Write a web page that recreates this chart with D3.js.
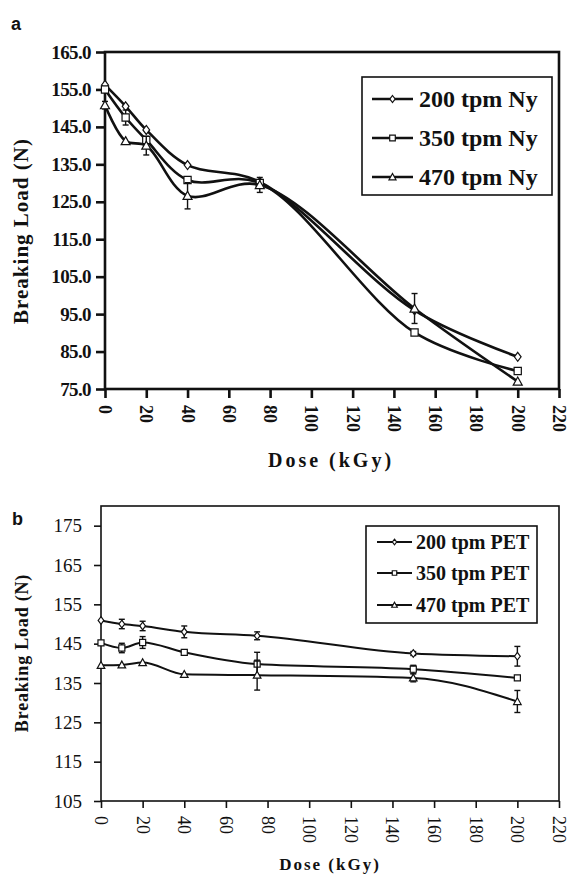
<!DOCTYPE html>
<html lang="en">
<head>
<meta charset="UTF-8">
<title>Breaking load vs dose</title>
<script src="https://cdn.jsdelivr.net/npm/d3@7"></script>
<style>
  body { margin: 0; background: #fff; }
  svg { display: block; }
</style>
</head>
<body>
<div id="chart"></div>
<script>
// 数据
const doses = [0, 10, 20, 40, 75, 150, 200];
const xTicks = [0, 20, 40, 60, 80, 100, 120, 140, 160, 180, 200, 220];

const nyNames = ["200 tpm Ny", "350 tpm Ny", "470 tpm Ny"];
const ny200 = [156.2, 150.5, 144.2, 134.8, 130.3, 96.0, 83.6];
const ny350 = [155.0, 147.5, 141.5, 130.8, 130.0, 90.1, 79.8];
const ny470 = [150.8, 141.2, 140.0, 126.6, 129.5, 96.5, 77.0];
const ny200Err = [0, 0, 0, 0, 0, 0, 0];
const ny350Err = [0, 2.0, 0, 0, 0, 0, 0];
const ny470Err = [1.0, 0, 2.5, 3.5, 2.0, 4.0, 0];
const nyTicks = [75, 85, 95, 105, 115, 125, 135, 145, 155, 165];

const petNames = ["200 tpm PET", "350 tpm PET", "470 tpm PET"];
const pet200 = [150.9, 150.0, 149.5, 148.0, 147.0, 142.5, 141.8];
const pet350 = [145.2, 143.9, 145.3, 142.8, 139.8, 138.5, 136.3];
const pet470 = [139.5, 139.6, 140.2, 137.2, 137.0, 136.3, 130.3];
const pet200Err = [0, 1.2, 1.2, 1.5, 1.0, 0.5, 2.5];
const pet350Err = [0, 1.2, 1.5, 0, 3.0, 1.0, 0];
const pet470Err = [0, 0, 0, 0, 3.8, 1.0, 2.8];
const petTicks = [105, 115, 125, 135, 145, 155, 165, 175];

const markers = ["diamond", "square", "triangle"];

const serif = "'Liberation Serif', 'Times New Roman', serif";
const width = 568, height = 876;
const svg = d3.select("#chart").append("svg").attr("width", width).attr("height", height);

function markerPath(type, s) {
    if (type === "diamond") return `M0,${-s}L${s*0.75},0L0,${s}L${-s*0.75},0Z`;
    if (type === "square") return `M${-s*0.8},${-s*0.8}H${s*0.8}V${s*0.8}H${-s*0.8}Z`;
    return `M0,${-s}L${s},${s*0.8}L${-s},${s*0.8}Z`;
}

function drawPanel(o) {
    const g = svg.append("g");
    const x = d3.scaleLinear().domain([0, 220]).range([o.left, o.right]);
    const y = d3.scaleLinear().domain(o.yDomain).range([o.bottom, o.top]);

    // 坐标轴
    const yAxis = g.append("g").attr("transform", `translate(${o.left},0)`)
        .call(d3.axisLeft(y).tickValues(o.yTicks).tickSize(o.tick).tickSizeOuter(0)
            .tickPadding(o.yPad).tickFormat(o.yFormat));
    yAxis.select(".domain").remove();
    yAxis.selectAll("line").attr("stroke", "#111").attr("stroke-width", o.frame);
    yAxis.selectAll("text").attr("font-family", serif).attr("font-size", o.tickFont)
        .attr("font-weight", o.tickWeight).attr("fill", "#111").attr("letter-spacing", o.tickLs);

    const xAxis = g.append("g").attr("transform", `translate(0,${o.bottom})`)
        .call(d3.axisBottom(x).tickValues(xTicks).tickSize(o.tick).tickSizeOuter(0));
    xAxis.select(".domain").remove();
    xAxis.selectAll("line").attr("stroke", "#111").attr("stroke-width", o.frame);
    xAxis.selectAll("text")
        .attr("transform", "rotate(90)")
        .attr("x", o.xPad).attr("y", 0).attr("dy", "0.36em")
        .style("text-anchor", "start")
        .attr("font-family", serif).attr("font-size", o.xTickFont)
        .attr("font-weight", o.tickWeight).attr("fill", "#111");

    g.append("rect").attr("x", o.left).attr("y", o.top)
        .attr("width", o.right - o.left).attr("height", o.bottom - o.top)
        .attr("fill", "none").attr("stroke", "#111").attr("stroke-width", o.frame);

    // 线
    const line = d3.line().x(d => x(d.dose)).y(d => y(d.v)).curve(o.curve);
    o.series.forEach((vals, i) => {
        const pts = doses.map((d, j) => ({dose: d, v: vals[j], e: o.errs[i][j]}));
        g.append("path").datum(pts).attr("d", line)
            .attr("fill", "none").attr("stroke", "#111").attr("stroke-width", o.lineW);
        const eb = g.append("g").selectAll("g").data(pts.filter(p => p.e > 0)).join("g");
        eb.append("line").attr("x1", d => x(d.dose)).attr("x2", d => x(d.dose))
            .attr("y1", d => y(d.v - d.e)).attr("y2", d => y(d.v + d.e))
            .attr("stroke", "#111").attr("stroke-width", 1.4);
        eb.append("line").attr("x1", d => x(d.dose) - 3).attr("x2", d => x(d.dose) + 3)
            .attr("y1", d => y(d.v + d.e)).attr("y2", d => y(d.v + d.e))
            .attr("stroke", "#111").attr("stroke-width", 1.4);
        eb.append("line").attr("x1", d => x(d.dose) - 3).attr("x2", d => x(d.dose) + 3)
            .attr("y1", d => y(d.v - d.e)).attr("y2", d => y(d.v - d.e))
            .attr("stroke", "#111").attr("stroke-width", 1.4);
        g.append("g").selectAll("path").data(pts).join("path")
            .attr("transform", d => `translate(${x(d.dose)},${y(d.v)})`)
            .attr("d", markerPath(markers[i], o.mk))
            .attr("fill", "#fff").attr("stroke", "#111").attr("stroke-width", 1.2);
    });

    // 图例
    const lg = o.legend;
    g.append("rect").attr("x", lg.x0).attr("y", lg.y0)
        .attr("width", lg.x1 - lg.x0).attr("height", lg.y1 - lg.y0)
        .attr("fill", "#fff").attr("stroke", "#111").attr("stroke-width", 1.6);
    o.names.forEach((name, i) => {
        const cy = lg.rows[i];
        g.append("line").attr("x1", lg.lx0).attr("x2", lg.lx1).attr("y1", cy).attr("y2", cy)
            .attr("stroke", "#111").attr("stroke-width", o.lineW);
        g.append("path").attr("transform", `translate(${(lg.lx0 + lg.lx1) / 2},${cy})`)
            .attr("d", markerPath(markers[i], o.mk - 1))
            .attr("fill", "#fff").attr("stroke", "#111").attr("stroke-width", 1.2);
        g.append("text").attr("x", lg.tx).attr("y", cy).attr("dy", "0.35em")
            .attr("font-family", serif).attr("font-weight", "bold")
            .attr("font-size", lg.font).attr("letter-spacing", lg.ls).attr("fill", "#111")
            .text(name);
    });

    // 标题
    g.append("text").attr("x", o.xTitle[0]).attr("y", o.xTitle[1])
        .attr("text-anchor", "middle").attr("font-family", serif).attr("font-weight", "bold")
        .attr("font-size", o.xTitleFont).attr("letter-spacing", o.xTitleLs).attr("fill", "#111")
        .text("Dose (kGy)");
    g.append("text").attr("transform", `translate(${o.yTitle[0]},${o.yTitle[1]}) rotate(-90)`)
        .attr("text-anchor", "middle").attr("font-family", serif).attr("font-weight", "bold")
        .attr("font-size", o.yTitleFont).attr("letter-spacing", o.yTitleLs).attr("fill", "#111")
        .text("Breaking Load (N)");
    g.append("text").attr("x", o.tag[0]).attr("y", o.tag[1])
        .attr("font-family", "'Liberation Sans', Arial, sans-serif").attr("font-weight", "bold")
        .attr("font-size", 18).attr("fill", "#111").text(o.tagText);
}

drawPanel({
    left: 105, right: 559, top: 52, bottom: 389,
    yDomain: [75, 165], yTicks: nyTicks, yFormat: d3.format(".1f"),
    tick: 9, yPad: 5, xPad: 16, tickFont: 19, xTickFont: 18, tickWeight: "bold", tickLs: -0.6,
    frame: 2.6, lineW: 2.6, mk: 4.5, curve: d3.curveCatmullRom.alpha(0.5),
    series: [ny200, ny350, ny470], errs: [ny200Err, ny350Err, ny470Err], names: nyNames,
    legend: {x0: 362, x1: 552, y0: 77, y1: 195, rows: [99, 138, 177], lx0: 372, lx1: 413, tx: 419, font: 24, ls: 0},
    xTitle: [331, 467], xTitleFont: 20, xTitleLs: 3,
    yTitle: [28, 231], yTitleFont: 21, yTitleLs: 1,
    tag: [11, 30], tagText: "a"
});

drawPanel({
    left: 101, right: 559, top: 506, bottom: 801,
    yDomain: [105, 180], yTicks: petTicks, yFormat: d3.format("d"),
    tick: 7, yPad: 12, xPad: 15, tickFont: 19, xTickFont: 18, tickWeight: "normal", tickLs: 0,
    frame: 1.6, lineW: 2, mk: 3.8, curve: d3.curveMonotoneX,
    series: [pet200, pet350, pet470], errs: [pet200Err, pet350Err, pet470Err], names: petNames,
    legend: {x0: 366, x1: 537, y0: 526, y1: 623, rows: [542, 573, 605], lx0: 377, lx1: 412, tx: 416, font: 20, ls: 0},
    xTitle: [330, 870], xTitleFont: 17, xTitleLs: 2,
    yTitle: [28, 653], yTitleFont: 18, yTitleLs: 0.8,
    tag: [12, 525], tagText: "b"
});
</script>
</body>
</html>
